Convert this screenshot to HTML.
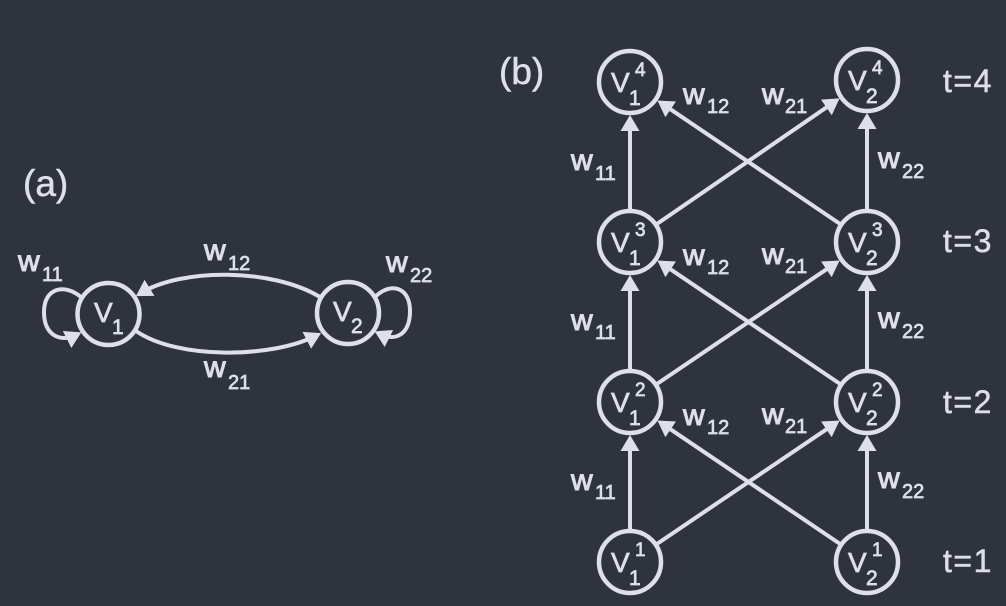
<!DOCTYPE html>
<html>
<head>
<meta charset="utf-8">
<style>
  html, body { margin:0; padding:0; background:#2e333e; }
  body { width:1006px; height:606px; overflow:hidden; }
  svg { display:block; }
  text { font-family: "Liberation Sans", "DejaVu Sans", sans-serif; fill:#dde0e8; stroke:#dde0e8; stroke-width:0.7px; }
  .w { font-size:30px; stroke-width:1px; }
  .s { font-size:20px; }
  .V { font-size:28px; }
  .vs { font-size:21px; }
  .vp { font-size:19px; }
  .lbl { font-size:37px; stroke-width:0.5px; }
  .t { font-size:32px; letter-spacing:1.5px; stroke-width:0.5px; }
</style>
</head>
<body>
<svg width="1006" height="606" viewBox="0 0 1006 606" xmlns="http://www.w3.org/2000/svg">
  <defs>
    <marker id="ah" markerUnits="userSpaceOnUse" markerWidth="16" markerHeight="19" viewBox="0 0 16 19" refX="10" refY="9.5" orient="auto">
      <path d="M0,0 L16,9.5 L0,19 z" fill="#dde0e8"/>
    </marker>
  </defs>
  <rect width="1006" height="606" fill="#2e333e"/>

  <g fill="none" stroke="#dde0e8" stroke-width="4.5">
    <!-- panel (a) nodes -->
    <circle cx="108.5" cy="314" r="31"/>
    <circle cx="348" cy="313" r="31"/>
    <!-- panel (b) nodes -->
    <circle cx="630" cy="82" r="31"/>
    <circle cx="867" cy="80" r="31"/>
    <circle cx="630" cy="242" r="31"/>
    <circle cx="867" cy="242" r="31"/>
    <circle cx="630" cy="402" r="31"/>
    <circle cx="867" cy="402" r="31"/>
    <circle cx="630" cy="562" r="31"/>
    <circle cx="867" cy="562" r="31"/>
  </g>

  <g fill="none" stroke="#dde0e8" stroke-width="4" marker-end="url(#ah)">
    <!-- panel (a) edges -->
    <path d="M320,297 C272,268 182,268 141,293"/>
    <path d="M136,331 C178,360 272,358 315.7,335.8"/>
    <path d="M81,297 C64,283 44,288 44,312 C44,335 60,343 76,335"/>
    <path d="M376,296 C391,282 410,287 410,311 C410,334 396,342 380,334"/>

    <!-- panel (b) verticals -->
    <line x1="630" y1="529" x2="630" y2="441"/>
    <line x1="630" y1="369" x2="630" y2="281"/>
    <line x1="630" y1="209" x2="630" y2="121"/>
    <line x1="867" y1="529" x2="867" y2="441"/>
    <line x1="867" y1="369" x2="867" y2="281"/>
    <line x1="867" y1="209" x2="867" y2="119"/>

    <!-- panel (b) diagonals V1 -> V2 -->
    <line x1="657.4" y1="543.6" x2="834.6" y2="423.8"/>
    <line x1="657.4" y1="383.6" x2="834.6" y2="263.8"/>
    <line x1="657.4" y1="223.6" x2="834.6" y2="101.8"/>
    <!-- panel (b) diagonals V2 -> V1 -->
    <line x1="839.6" y1="543.6" x2="662.4" y2="423.8"/>
    <line x1="839.6" y1="383.6" x2="662.4" y2="263.8"/>
    <line x1="839.6" y1="223.6" x2="662.4" y2="103.8"/>
  </g>

  <!-- panel labels -->
  <text class="lbl" x="23" y="196">(a)</text>
  <text class="lbl" x="499" y="84">(b)</text>

  <!-- panel (a) node text -->
  <text class="V" x="94" y="322">V</text><text class="vs" x="112" y="334">1</text>
  <text class="V" x="333" y="321">V</text><text class="vs" x="351" y="333">2</text>

  <!-- panel (a) weights -->
  <text class="w" x="18" y="271">w</text><text class="s" x="42" y="281">11</text>
  <text class="w" x="204" y="260">w</text><text class="s" x="228" y="270">12</text>
  <text class="w" x="386" y="272">w</text><text class="s" x="410" y="282">22</text>
  <text class="w" x="204" y="377">w</text><text class="s" x="228" y="389">21</text>

  <!-- panel (b) node text -->
  <g>
    <text class="V" x="611" y="92">V</text><text class="vs" x="629" y="105">1</text><text class="vp" x="635" y="76">4</text>
    <text class="V" x="848" y="90">V</text><text class="vs" x="866" y="103">2</text><text class="vp" x="872" y="74">4</text>

    <text class="V" x="611" y="252">V</text><text class="vs" x="629" y="265">1</text><text class="vp" x="635" y="236">3</text>
    <text class="V" x="848" y="252">V</text><text class="vs" x="866" y="265">2</text><text class="vp" x="872" y="236">3</text>

    <text class="V" x="611" y="412">V</text><text class="vs" x="629" y="425">1</text><text class="vp" x="635" y="396">2</text>
    <text class="V" x="848" y="412">V</text><text class="vs" x="866" y="425">2</text><text class="vp" x="872" y="396">2</text>

    <text class="V" x="611" y="572">V</text><text class="vs" x="629" y="585">1</text><text class="vp" x="635" y="556">1</text>
    <text class="V" x="848" y="572">V</text><text class="vs" x="866" y="585">2</text><text class="vp" x="872" y="556">1</text>
  </g>

  <!-- panel (b) weights: top block -->
  <text class="w" x="683" y="104">w</text><text class="s" x="707" y="113">12</text>
  <text class="w" x="762" y="104">w</text><text class="s" x="785" y="113">21</text>
  <text class="w" x="571" y="170">w</text><text class="s" x="595" y="180">11</text>
  <text class="w" x="878" y="168">w</text><text class="s" x="902" y="178">22</text>

  <!-- middle block -->
  <text class="w" x="683" y="265">w</text><text class="s" x="707" y="274">12</text>
  <text class="w" x="762" y="264">w</text><text class="s" x="785" y="273">21</text>
  <text class="w" x="571" y="330">w</text><text class="s" x="595" y="339">11</text>
  <text class="w" x="878" y="328">w</text><text class="s" x="902" y="338">22</text>

  <!-- bottom block -->
  <text class="w" x="683" y="425">w</text><text class="s" x="707" y="434">12</text>
  <text class="w" x="762" y="424">w</text><text class="s" x="785" y="433">21</text>
  <text class="w" x="571" y="490">w</text><text class="s" x="595" y="499">11</text>
  <text class="w" x="878" y="488">w</text><text class="s" x="902" y="498">22</text>

  <!-- time labels -->
  <text class="t" x="943" y="92">t=4</text>
  <text class="t" x="943" y="252">t=3</text>
  <text class="t" x="943" y="413">t=2</text>
  <text class="t" x="943" y="572">t=1</text>
</svg>
</body>
</html>
